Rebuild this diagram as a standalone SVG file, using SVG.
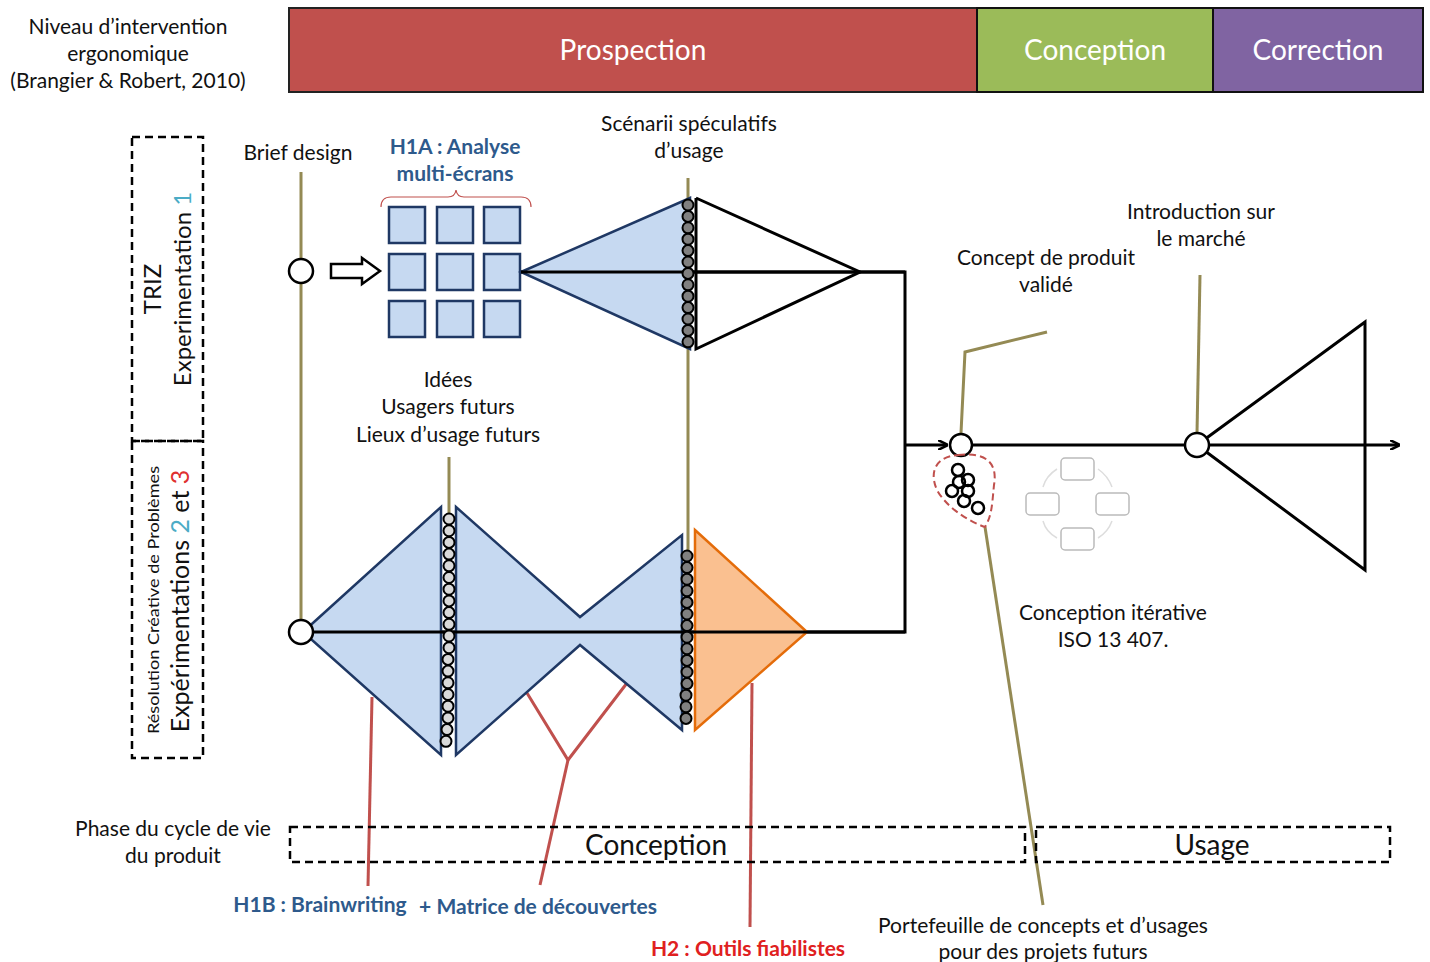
<svg xmlns="http://www.w3.org/2000/svg" width="1430" height="962" viewBox="0 0 1430 962">
<style>
text{font-family:Lato,"Liberation Sans",sans-serif;fill:#111}
.t{font-size:21px;text-anchor:middle}
.bar{font-size:28px;fill:#fff;text-anchor:middle}
.blue{fill:#C6D9F1;stroke:#1F3864;stroke-width:2.5}
.olive{stroke:#948A54;stroke-width:3;fill:none}
.red{stroke:#C0504D;stroke-width:3;fill:none}
.blk{stroke:#000;stroke-width:3;fill:none}
.dash{stroke:#000;stroke-width:2.5;fill:none;stroke-dasharray:8 5}
.hb{font-size:21px;font-weight:bold;fill:#2E5A8C;text-anchor:middle}
.dl{fill:#D9D9D9;stroke:#000;stroke-width:2}
.dg{fill:#808080;stroke:#000;stroke-width:2}
.cyc{fill:#fff;stroke:#BBB;stroke-width:1.5}
</style>
<defs>
<marker id="ah" markerWidth="10" markerHeight="10" refX="9" refY="5" orient="auto" markerUnits="userSpaceOnUse" viewBox="0 0 10 10"><path d="M0,0 L10,5 L0,10" fill="none" stroke="#000" stroke-width="2.5"/></marker>
</defs>
<rect width="1430" height="962" fill="#fff"/>

<g id="header">
<text class="t"><tspan x="128" y="34">Niveau d’intervention</tspan><tspan x="128" y="61">ergonomique</tspan><tspan x="128" y="88">(Brangier &amp; Robert, 2010)</tspan></text>
<g id="prospection"><rect x="289" y="8" width="688" height="84" fill="#C0504D" stroke="#222" stroke-width="2"/><text class="bar" x="633" y="60">Prospection</text></g>
<g id="conception-top"><rect x="977" y="8" width="236" height="84" fill="#9BBB59" stroke="#111" stroke-width="2"/><text class="bar" x="1095" y="60">Conception</text></g>
<g id="correction"><rect x="1213" y="8" width="210" height="84" fill="#8064A2" stroke="#111" stroke-width="2"/><text class="bar" x="1318" y="60">Correction</text></g>
</g>

<g id="triz-box">
<rect class="dash" x="132" y="137" width="71" height="304"/>
<text font-size="24" text-anchor="middle" transform="translate(161,289) rotate(-90)">TRIZ</text>
<text font-size="24" text-anchor="middle" transform="translate(191,289) rotate(-90)">Experimentation <tspan fill="#4BACC6">1</tspan></text>
</g>
<g id="rcp-box">
<rect class="dash" x="132" y="441" width="71" height="317"/>
<text font-size="16" text-anchor="middle" textLength="268" lengthAdjust="spacingAndGlyphs" transform="translate(159,600) rotate(-90)">Résolution Créative de Problèmes</text>
<text font-size="25" text-anchor="middle" transform="translate(189,601) rotate(-90)">Expérimentations <tspan fill="#4BACC6">2</tspan> et <tspan fill="#E03030">3</tspan></text>
</g>

<g id="connectors">
<line class="olive" x1="301" y1="172" x2="301" y2="632"/>
<line class="olive" x1="688" y1="178" x2="688" y2="600"/>
<line class="olive" x1="449" y1="457" x2="449" y2="515"/>
<polyline class="olive" points="961,433 965,352 1047,332"/>
<line class="olive" x1="1197" y1="433" x2="1200" y2="275"/>
<line class="olive" x1="985" y1="527" x2="1043" y2="905"/>
<line class="red" x1="372" y1="697" x2="368" y2="886"/>
<polyline class="red" points="527,693 568,760 627,683"/>
<line class="red" x1="568" y1="760" x2="540" y2="885"/>
<line class="red" x1="752" y1="683" x2="750" y2="927"/>
<polyline class="blk" points="521,272 905,272 905,632 301,632"/>
<line class="blk" x1="905" y1="445" x2="947" y2="445" marker-end="url(#ah)"/>
<line class="blk" x1="972" y1="445" x2="1399" y2="445" marker-end="url(#ah)"/>
<path d="M331,264 H362 V258 L380,271 L362,284 V278 H331 Z" fill="#fff" stroke="#000" stroke-width="2.5"/>
</g>

<g id="brief-design">
<text class="t" x="298" y="160">Brief design</text>
<circle cx="301" cy="271" r="12" fill="#fff" stroke="#000" stroke-width="2.5"/>
</g>

<g id="h1a">
<text class="hb"><tspan x="455" y="154">H1A : Analyse</tspan><tspan x="455" y="181">multi-écrans</tspan></text>
<path d="M381,207 Q381,197 391,197 H448 Q455,197 456,190 Q457,197 464,197 H521 Q531,197 531,207" fill="none" stroke="#C0504D" stroke-width="1.2"/>
<g>
<rect class="blue" x="389" y="207" width="36" height="36"/><rect class="blue" x="437" y="207" width="36" height="36"/><rect class="blue" x="484" y="207" width="36" height="36"/>
<rect class="blue" x="389" y="254" width="36" height="36"/><rect class="blue" x="437" y="254" width="36" height="36"/><rect class="blue" x="484" y="254" width="36" height="36"/>
<rect class="blue" x="389" y="301" width="36" height="36"/><rect class="blue" x="437" y="301" width="36" height="36"/><rect class="blue" x="484" y="301" width="36" height="36"/>
</g>
</g>

<g id="scenarii">
<text class="t"><tspan x="689" y="131">Scénarii spéculatifs</tspan><tspan x="689" y="158">d’usage</tspan></text>
<polygon class="blue" points="521,272 690,198 690,349"/>
<polyline class="blk" points="696,198 860,272 696,349 696,198"/>
<line x1="521" y1="272" x2="905" y2="272" stroke="#000" stroke-width="3"/>
<g class="dg">
<circle cx="688" cy="205" r="5.5"/><circle cx="688" cy="216.4" r="5.5"/><circle cx="688" cy="227.8" r="5.5"/><circle cx="688" cy="239.2" r="5.5"/><circle cx="688" cy="250.6" r="5.5"/><circle cx="688" cy="262" r="5.5"/><circle cx="688" cy="273.4" r="5.5"/><circle cx="688" cy="284.8" r="5.5"/><circle cx="688" cy="296.2" r="5.5"/><circle cx="688" cy="307.6" r="5.5"/><circle cx="688" cy="319" r="5.5"/><circle cx="688" cy="330.4" r="5.5"/><circle cx="688" cy="341.8" r="5.5"/>
</g>
</g>

<g id="idees">
<text class="t"><tspan x="448" y="387">Idées</tspan><tspan x="448" y="414">Usagers futurs</tspan><tspan x="448" y="442">Lieux d’usage futurs</tspan></text>
</g>

<g id="divergence">
<polygon class="blue" points="303,632 441,507 441,755"/>
<polygon class="blue" points="456,507 580,617 682,535 682,730 580,645 456,755"/>
<polygon points="695,530 807,632 695,730" fill="#FAC090" stroke="#E46C0A" stroke-width="2.5"/>
<line x1="301" y1="632" x2="905" y2="632" stroke="#000" stroke-width="3"/>
<circle cx="301" cy="632" r="12" fill="#fff" stroke="#000" stroke-width="2.5"/>
<g class="dl">
<circle cx="449" cy="519" r="5.5"/><circle cx="449" cy="530.7" r="5.5"/><circle cx="449" cy="542.4" r="5.5"/><circle cx="449" cy="554.1" r="5.5"/><circle cx="449" cy="565.8" r="5.5"/><circle cx="449" cy="577.5" r="5.5"/><circle cx="449" cy="589.2" r="5.5"/><circle cx="449" cy="600.9" r="5.5"/><circle cx="449" cy="612.6" r="5.5"/><circle cx="449" cy="624.3" r="5.5"/><circle cx="449" cy="636" r="5.5"/><circle cx="449" cy="647.7" r="5.5"/><circle cx="448" cy="659.4" r="5.5"/><circle cx="448" cy="671.1" r="5.5"/><circle cx="448" cy="682.8" r="5.5"/><circle cx="448" cy="694.5" r="5.5"/><circle cx="448" cy="706.2" r="5.5"/><circle cx="448" cy="717.9" r="5.5"/><circle cx="447" cy="729.6" r="5.5"/><circle cx="446" cy="741.3" r="5.5"/>
</g>
<g class="dg">
<circle cx="687" cy="556" r="5.5"/><circle cx="687" cy="567.6" r="5.5"/><circle cx="687" cy="579.2" r="5.5"/><circle cx="687" cy="590.8" r="5.5"/><circle cx="687" cy="602.4" r="5.5"/><circle cx="687" cy="614" r="5.5"/><circle cx="687" cy="625.6" r="5.5"/><circle cx="687" cy="637.2" r="5.5"/><circle cx="687" cy="648.8" r="5.5"/><circle cx="687" cy="660.4" r="5.5"/><circle cx="687" cy="672" r="5.5"/><circle cx="687" cy="683.6" r="5.5"/><circle cx="686" cy="695.2" r="5.5"/><circle cx="686" cy="706.8" r="5.5"/><circle cx="686" cy="718.4" r="5.5"/>
</g>
</g>

<g id="concept-valide">
<text class="t"><tspan x="1046" y="265">Concept de produit</tspan><tspan x="1046" y="292">validé</tspan></text>
<circle cx="961" cy="445" r="11" fill="#fff" stroke="#000" stroke-width="2.5"/>
<path d="M958,455 C985,452 998,462 994,485 C992,505 992,515 985,527 C965,520 945,505 937,490 C928,470 938,456 958,455 Z" fill="none" stroke="#C0504D" stroke-width="2" stroke-dasharray="7 4"/>
<g fill="none" stroke="#000" stroke-width="2.5">
<circle cx="958" cy="470" r="6"/><circle cx="968" cy="480" r="6"/><circle cx="959" cy="482" r="6"/><circle cx="952" cy="491" r="6"/><circle cx="968" cy="491" r="6"/><circle cx="964" cy="501" r="6"/><circle cx="978" cy="508" r="6"/>
</g>
</g>

<g id="iso-cycle">
<rect class="cyc" x="1061" y="458" width="33" height="22" rx="4"/>
<rect class="cyc" x="1026" y="493" width="33" height="22" rx="4"/>
<rect class="cyc" x="1096" y="493" width="33" height="22" rx="4"/>
<rect class="cyc" x="1061" y="528" width="33" height="22" rx="4"/>
<g fill="none" stroke="#DDD" stroke-width="1.5"><path d="M1057,469 Q1046,476 1043,487"/><path d="M1098,469 Q1108,476 1112,487"/><path d="M1043,521 Q1046,532 1057,538"/><path d="M1112,521 Q1108,532 1098,538"/></g>
<text class="t"><tspan x="1113" y="620">Conception  itérative</tspan><tspan x="1113" y="647">ISO 13 407.</tspan></text>
</g>

<g id="marche">
<text class="t"><tspan x="1201" y="219">Introduction sur</tspan><tspan x="1201" y="246">le marché</tspan></text>
<polygon points="1197,445 1365,322 1365,570" fill="none" stroke="#000" stroke-width="3"/>
<circle cx="1197" cy="445" r="12" fill="#fff" stroke="#000" stroke-width="2.5"/>
</g>

<g id="cycle-vie">
<text class="t"><tspan x="173" y="836">Phase du cycle de vie</tspan><tspan x="173" y="863">du produit</tspan></text>
<rect class="dash" x="290" y="827" width="735" height="35"/>
<text font-size="28" text-anchor="middle" x="656" y="855">Conception</text>
<rect class="dash" x="1036" y="827" width="354" height="35"/>
<text font-size="28" text-anchor="middle" x="1212" y="855">Usage</text>
</g>

<g id="labels-bottom">
<text class="hb" x="320" y="912">H1B : Brainwriting</text>
<text font-size="21" font-weight="bold" style="fill:#2E5A8C" text-anchor="middle" x="538" y="914">+ Matrice de découvertes</text>
<text font-size="21" font-weight="bold" style="fill:#E02020" text-anchor="middle" x="748" y="956">H2 : Outils fiabilistes</text>
<text class="t"><tspan x="1043" y="933">Portefeuille  de concepts et d’usages</tspan><tspan x="1043" y="959">pour des projets futurs</tspan></text>
</g>
</svg>
